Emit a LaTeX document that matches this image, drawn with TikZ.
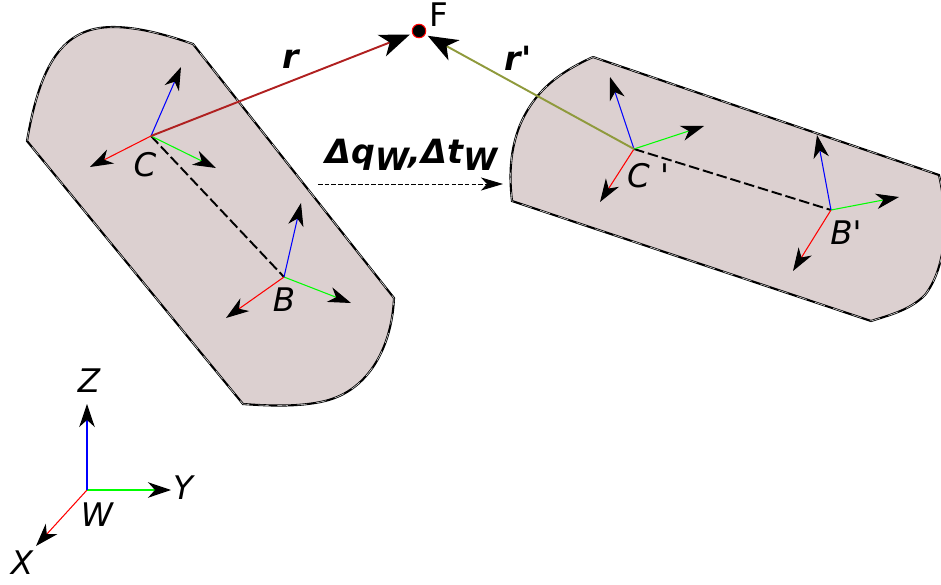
\documentclass[tikz,border=0pt]{standalone}
\usepackage{fontspec}
\setmainfont{DejaVu Sans}
\usepackage{tikz}
\usetikzlibrary{positioning, arrows.meta}
\definecolor{bodyfill}{HTML}{DCD0D0}
\definecolor{rred}{HTML}{B02020}
\definecolor{rolive}{HTML}{8F9A3C}
\tikzset{
  tip/.style={-{Stealth[length=0.46cm, width=0.31cm, inset=0.14cm, color=black]}},
  bigtip/.style={-{Stealth[length=0.6cm, width=0.46cm, inset=0.17cm, color=black]}},
  body/.style={draw=black, line width=1.2pt, fill=bodyfill, postaction={draw=white, line width=0.25pt, dash pattern=on 6pt off 5pt}},
  xaxis/.style={tip, draw=red, line width=0.6pt},
  yaxis/.style={tip, draw=green, line width=0.6pt},
  zaxis/.style={tip, draw=blue, line width=0.6pt},
  link/.style={draw=black, line width=1.1pt, dash pattern=on 6pt off 2.2pt},
  lab/.style={inner sep=0pt, font=\fontsize{18.5}{20}\selectfont\itshape},
  bold/.style={inner sep=0pt, font=\fontsize{19}{21}\selectfont\bfseries\itshape}
}
\newcommand{\subW}{\raisebox{-4pt}{\fontsize{17.5}{19}\selectfont W}}

\begin{document}
\begin{tikzpicture}[x=0.02cm, y=-0.02cm]
  \useasboundingbox (0,0) rectangle (941,585);

  % the two bodies
  \path[body] (27,141) .. controls (40,65) and (62,27) .. (113,27)
    .. controls (140,27) and (170,36) .. (193,44) -- (394,298)
    .. controls (392,345) and (370,390) .. (325,401)
    .. controls (300,407) and (270,406) .. (243,404) -- cycle;
  \begin{scope}
    \clip (0,0) rectangle (941,585);
    \path[body] (593,57) -- (939,175) .. controls (948,215) and (948,265) .. (925,295)
      .. controls (910,310) and (890,315) .. (871,321) -- (512,201)
      .. controls (509,175) and (510,150) .. (520,125)
      .. controls (535,90) and (560,72) .. (593,57);
  \end{scope}

  % frames
  \coordinate (C) at (151,136);
  \coordinate (B) at (284,277);
  \coordinate (Cp) at (634,149);
  \coordinate (Bp) at (831,210);
  \coordinate (W) at (87,490);

  \coordinate (Cx) at (90,167);
  \coordinate (Cy) at (216,168);
  \coordinate (Cz) at (181,67);
  \coordinate (Bx) at (226,318);
  \coordinate (By) at (351,303);
  \coordinate (Bz) at (301,203);
  \coordinate (Cpx) at (600,202);
  \coordinate (Cpy) at (704,126);
  \coordinate (Cpz) at (610,77);
  \coordinate (Bpx) at (793,271);
  \coordinate (Bpy) at (899,197);
  \coordinate (Bpz) at (817,135);
  \coordinate (Wx) at (36,546);
  \coordinate (Wy) at (171,490);
  \coordinate (Wz) at (87,404);

  \draw[link] (C) -- (B);
  \draw[link] (Cp) -- (Bp);

  \draw[xaxis] (C) -- (Cx);
  \draw[yaxis] (C) -- (Cy);
  \draw[zaxis] (C) -- (Cz);
  \draw[xaxis] (B) -- (Bx);
  \draw[yaxis] (B) -- (By);
  \draw[zaxis] (B) -- (Bz);
  \draw[xaxis] (Cp) -- (Cpx);
  \draw[yaxis] (Cp) -- (Cpy);
  \draw[zaxis] (Cp) -- (Cpz);
  \draw[xaxis] (Bp) -- (Bpx);
  \draw[yaxis] (Bp) -- (Bpy);
  \draw[zaxis] (Bp) -- (Bpz);
  \draw[xaxis] (W) -- (Wx);
  \draw[yaxis] (W) -- (Wy);
  \draw[zaxis] (W) -- (Wz);

  % feature point and rays
  \node[circle, draw=red, fill=black, line width=0.6pt, minimum size=0.27cm, inner sep=0pt] (F) at (419,31) {};
  \draw[bigtip, draw=rred, line width=1.1pt, shorten >=1.5pt] (C) -- (F);
  \draw[bigtip, draw=rolive, line width=1.1pt, shorten >=1.5pt] (Cp) -- (F);

  % motion between the two poses
  \coordinate (Ms) at (318,184);
  \coordinate (Me) at (503,184);
  \draw[-{Stealth[length=0.44cm, width=0.26cm, inset=0.12cm]}, line width=0.5pt, dash pattern=on 2.6pt off 1.2pt] (Ms) -- (Me);

  % labels
  \node[lab] (lC) at (145,165) {C};
  \node[lab] (lB) at (284,300) {B};
  \node[lab] (lCp) at (648,176) {C \textquotesingle};
  \node[lab] (lBp) at (846,233) {B\textquotesingle};
  \node[lab] (lW) at (97,515) {W};
  \node[lab] (lX) at (22,563) {X};
  \node[lab] (lY) at (183,488) {Y};
  \node[lab] (lZ) at (89,381) {Z};
  \node[inner sep=0pt, font=\fontsize{18.5}{20}\selectfont] (lF) at (439,15) {F};
  \node[bold] (lr) at (291,59) {r};
  \node[bold] (lrp) at (518,58) {r\textquotesingle};
  \node[bold, anchor=base west] (lM) at (325,163) {Δq\subW,Δt\subW};
\end{tikzpicture}
\end{document}
